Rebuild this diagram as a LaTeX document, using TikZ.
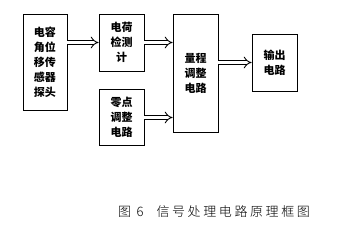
\documentclass[tikz,border=0pt]{standalone}
\usepackage{fontspec}
\setmainfont{Noto Sans CJK SC}
\newfontfamily\capfont[LetterSpace=20]{Noto Sans CJK SC Light}
\usetikzlibrary{arrows.meta}

\begin{document}
\begin{tikzpicture}[x=1pt, y=-1pt,
      block/.style={draw, line width=0.8pt, align=center, font=\bfseries\fontsize{11}{15}\selectfont, inner sep=0pt},
      hollow/.style={draw, line width=0.9pt, double, double distance=3.2pt, -{Implies}}
    ]
    \useasboundingbox (0,0) rectangle (362,226);
    \node[block, minimum width=44pt, minimum height=96pt] (probe) at (45,62.5) {电容\\角位\\移传\\感器\\探头};
    \node[block, minimum width=45pt, minimum height=57pt] (charge) at (121.5,42.5) {电荷\\检测\\计};
    \node[block, minimum width=45pt, minimum height=56pt] (nulladj) at (121.5,117.5) {零点\\调整\\电路};
    \node[block, minimum width=45pt, minimum height=118pt] (range) at (195.5,73) {量程\\调整\\电路};
    \node[block, minimum width=45pt, minimum height=57pt] (out) at (274.5,62.5) {输出\\电路};
    \node[font=\capfont\fontsize{13}{15}\selectfont] (cap) at (214,212) {图 6\quad 信号处理电路原理框图};

    \draw[hollow] (probe.east |- charge) -- (charge.west);
    \draw[hollow] (charge.east) -- (charge.east -| range.west);
    \draw[hollow] (nulladj.east) -- (nulladj.east -| range.west);
    \draw[hollow] (out.west -| range.east) -- (out.west);
  \end{tikzpicture}
\end{document}
